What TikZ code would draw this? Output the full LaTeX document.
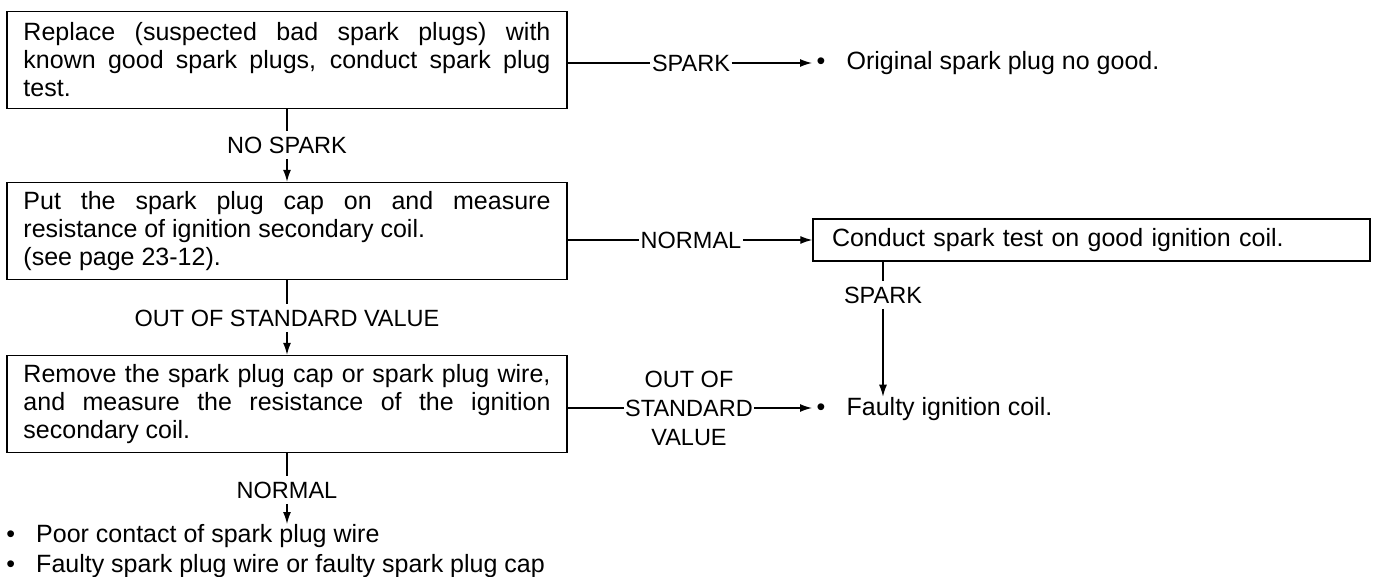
\documentclass[tikz,border=0pt]{standalone}
\usepackage{fontspec}
\setmainfont{Liberation Sans}
\usetikzlibrary{arrows.meta,positioning}

\newcommand{\boxfont}{\fontsize{25pt}{28pt}\selectfont}
\newcommand{\labelfont}{\fontsize{23.5pt}{29pt}\selectfont}
\newcommand{\itemdot}{\makebox[30pt][l]{\textbullet}}

\tikzset{
  stepbox/.style={draw, line width=1.4pt, text width=527pt, align=justify,
    inner xsep=16.5pt, minimum height=97pt, font=\boxfont},
  answer/.style={font=\labelfont, inner xsep=1pt, inner ysep=5pt},
  result/.style={font=\boxfont, anchor=west, inner xsep=4pt, inner ysep=0pt},
}

\begin{document}
\begin{tikzpicture}[x=10pt, y=-10pt, line width=1.3pt, >={Latex[length=12pt,width=8pt]}]
    \useasboundingbox (0,0) rectangle (137.7,57.7);

    % left column of checks
    \node[stepbox] (replace) at (28.7,6.0) {Replace (suspected bad spark plugs) with\linebreak known good spark plugs, conduct spark plug\linebreak test.};
    \node[stepbox] (capon) at (28.7,23.1) {Put the spark plug cap on and measure\linebreak resistance of ignition secondary coil.\\(see page 23-12).};
    \node[stepbox] (capoff) at (28.7,40.4) {Remove the spark plug cap or spark plug wire,\linebreak and measure the resistance of the ignition\linebreak secondary coil.};
    \node[stepbox, text width=519pt, align=left, inner xsep=19pt, minimum height=42pt] (goodcoil) at (109.15,24.0) {Conduct spark test on good ignition coil.};

    \node[answer] (nospark) at (28.7,14.5) {NO SPARK};
    \node[answer] (outstd) at (28.7,31.8) {OUT OF STANDARD VALUE};
    \node[answer] (normalc) at (28.7,49.0) {NORMAL};
    \node[answer] (sparka) at (69.1,6.3) {SPARK};
    \node[answer] (normala) at (69.1,24.0) {NORMAL};
    \node[answer] (sparkb) at (88.3,29.5) {SPARK};
    \node[answer, align=center] (outstdb) at (68.9,40.8) {OUT OF\\STANDARD\\VALUE};

    % findings
    \node[result] (plugbad) at (81.2,6.3) {\itemdot Original spark plug no good.};
    \node[result] (coilbad) at (81.2,40.9) {\itemdot Faulty ignition coil.};
    \node[result, anchor=north west, inner sep=0pt, align=left, font=\fontsize{25pt}{30pt}\selectfont] (wire) at (0.56,52.4)
        {\itemdot Poor contact of spark plug wire\\\itemdot Faulty spark plug wire or faulty spark plug cap};

    \draw (replace) -- (nospark);
    \draw[->] (nospark) -- (capon);
    \draw (capon) -- (outstd);
    \draw[->] (outstd) -- (capoff);
    \draw (capoff) -- (normalc);
    \draw[->] (normalc) -- (normalc |- wire.north);

    \draw (replace.east |- sparka) -- (sparka);
    \draw[->] (sparka) -- (plugbad);
    \draw (capon.east |- normala) -- (normala);
    \draw[->] (normala) -- (goodcoil);
    \draw (goodcoil.south -| sparkb) -- (sparkb);
    \draw[->] (sparkb) -- (sparkb |- coilbad.north);
    \draw (capoff.east |- outstdb) -- (outstdb);
    \draw[->] (outstdb) -- (outstdb -| coilbad.west);
\end{tikzpicture}
\end{document}
